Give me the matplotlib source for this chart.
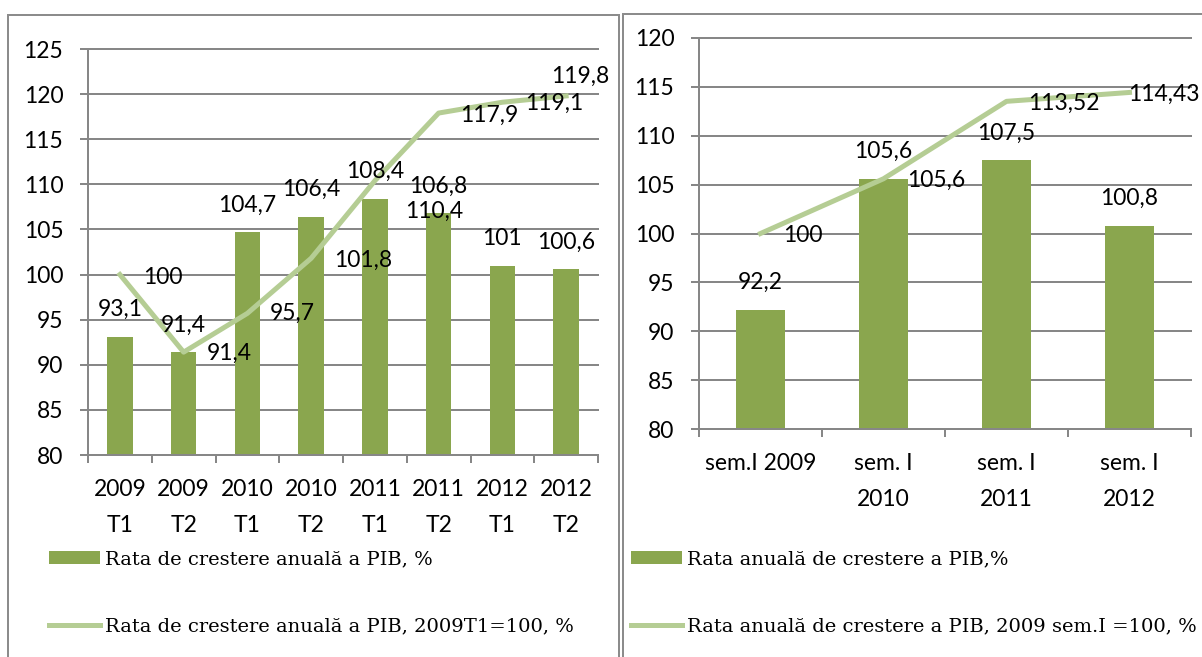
import matplotlib.pyplot as plt
import numpy as np
from matplotlib.patches import Rectangle

# left chart: quarterly data (T1/T2)
left_categories = ["2009\nT1", "2009\nT2", "2010\nT1", "2010\nT2",
                   "2011\nT1", "2011\nT2", "2012\nT1", "2012\nT2"]
left_bar_values = [93.1, 91.4, 104.7, 106.4, 108.4, 106.8, 101, 100.6]
left_line_values = [100, 91.4, 95.7, 101.8, 110.4, 117.9, 119.1, 119.8]
left_bar_label = "Rata de crestere anuală a PIB, %"
left_line_label = "Rata de crestere anuală a PIB, 2009T1=100, %"

# right chart: first semester data
right_categories = ["sem.I 2009", "sem. I\n2010", "sem. I\n2011", "sem. I\n2012"]
right_bar_values = [92.2, 105.6, 107.5, 100.8]
right_line_values = [100, 105.6, 113.52, 114.43]
right_bar_label = "Rata anuală de crestere a PIB,%"
right_line_label = "Rata anuală de crestere a PIB, 2009 sem.I =100, %"

# label placement for the line values (dx, dy in pixels, ha)
left_line_offsets = [(23, -3, "left"), (23, -1, "left"), (22, 0, "left"),
                     (23, -2, "left"), (30, -31, "left"), (21, -2, "left"),
                     (23, -1, "left"), (14, 20, "center")]
right_line_offsets = [(23, -2, "left"), (24, -2, "left"), (22, -2, "left"),
                      (-1, -2, "left")]

BAR_COLOR = "#8aa64e"
LINE_COLOR = "#b5cd94"
GRID_COLOR = "#878787"
W, H = 1202, 657
PT = 0.72  # points per pixel at dpi 100
FS = 16.5

plt.rcParams["font.family"] = ["Lato", "DejaVu Sans"]


def fx(px):
    return px / W


def fy(py):
    return 1 - py / H


def fmt(v):
    return f"{v:g}".replace(".", ",")


def draw_chart(ax, categories, bars_v, line_v, ylim, offsets, labels, legend_x):
    x = np.arange(len(categories))
    bars = ax.bar(x, bars_v, width=0.4, color=BAR_COLOR, zorder=2,
                  label=labels[0])
    line, = ax.plot(x, line_v, color=LINE_COLOR, linewidth=5 * PT, zorder=3,
                    label=labels[1])

    ax.set_xlim(-0.5, len(categories) - 0.5)
    ax.set_ylim(*ylim)
    ax.set_yticks(np.arange(ylim[0], ylim[1] + 1, 5))
    ax.set_xticks(x)
    ax.set_xticklabels(categories, linespacing=1.9)
    ax.set_xticks(np.arange(-0.5, len(categories)), minor=True)

    ax.tick_params(axis="y", length=8 * PT, width=2 * PT, color=GRID_COLOR,
                   labelsize=FS, pad=12)
    ax.tick_params(axis="x", which="major", length=0, labelsize=FS, pad=17)
    ax.tick_params(axis="x", which="minor", length=8 * PT, width=2 * PT,
                   color=GRID_COLOR)
    ax.yaxis.grid(True, color=GRID_COLOR, linewidth=2 * PT, zorder=0)
    for gl in ax.get_ygridlines():
        gl.set_clip_on(False)
    ax.set_axisbelow(True)
    for side in ["top", "right"]:
        ax.spines[side].set_visible(False)
    for side in ["left", "bottom"]:
        ax.spines[side].set_color(GRID_COLOR)
        ax.spines[side].set_linewidth(2 * PT)

    # data labels
    for xi, v in zip(x, bars_v):
        ax.annotate(fmt(v), (xi, v), xytext=(0, 27 * PT),
                    textcoords="offset points", ha="center", va="center",
                    fontsize=FS, annotation_clip=False)
    for xi, v, (dx, dy, ha) in zip(x, line_v, offsets):
        ax.annotate(fmt(v), (xi, v), xytext=(dx * PT, dy * PT),
                    textcoords="offset points", ha=ha, va="center",
                    fontsize=FS, annotation_clip=False)

    ax.legend(handles=[bars, line], loc="center left",
              bbox_to_anchor=(fx(legend_x), fy(593)),
              bbox_transform=ax.figure.transFigure, frameon=False,
              prop={"family": "DejaVu Serif", "size": 14.0},
              handlelength=2.6, handletextpad=0.3, labelspacing=2.55,
              borderpad=0, borderaxespad=0)


fig = plt.figure(figsize=(W / 100, H / 100), dpi=100)

# panel frames
fig.patches.append(Rectangle((fx(8), -0.1), fx(619) - fx(8), fy(15) + 0.1,
                             transform=fig.transFigure, fill=False,
                             edgecolor="#8c8c8c", linewidth=2 * PT))
fig.patches.append(Rectangle((fx(623), -0.1), 0.5, fy(14) + 0.1,
                             transform=fig.transFigure, fill=False,
                             edgecolor="#8c8c8c", linewidth=2 * PT))

ax1 = fig.add_axes([fx(88), fy(455), (598 - 88) / W, (455 - 49) / H])
draw_chart(ax1, left_categories, left_bar_values, left_line_values, (80, 125),
           left_line_offsets, [left_bar_label, left_line_label], 49)

ax2 = fig.add_axes([fx(699), fy(429), (1191 - 699) / W, (429 - 38) / H])
draw_chart(ax2, right_categories, right_bar_values, right_line_values,
           (80, 120), right_line_offsets, [right_bar_label, right_line_label], 631)

fig.savefig("out.png", dpi=100)
plt.close()
